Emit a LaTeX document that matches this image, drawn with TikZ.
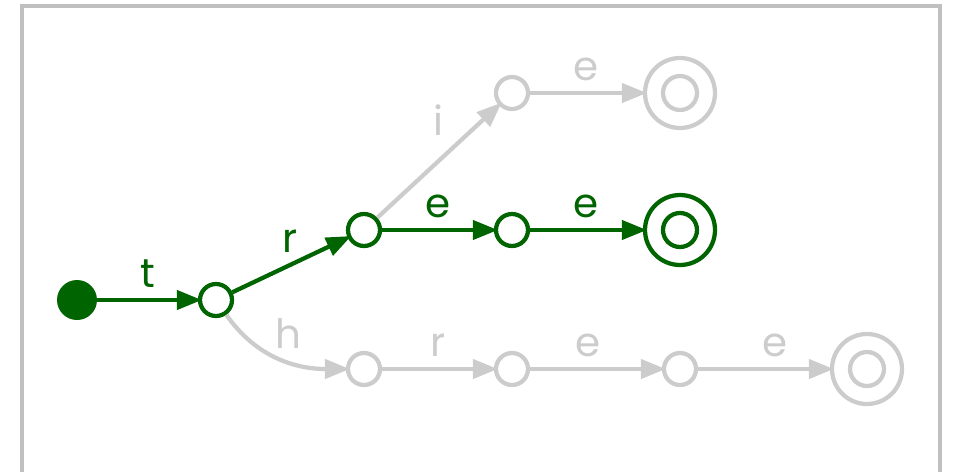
\documentclass[tikz,border=0pt]{standalone}
\usepackage{fontspec}
\setmainfont{Poppins}
\usetikzlibrary{arrows.meta}
\definecolor{trgreen}{HTML}{006400}
\definecolor{trgray}{HTML}{CCCCCC}
\definecolor{framegray}{HTML}{C0C0C0}

\begin{document}
\begin{tikzpicture}[x=0.02cm, y=-0.02cm,
        state/.style={circle, draw, line width=0.085cm, minimum size=0.64cm, inner sep=0pt},
        accept/.style={state, minimum size=1.4cm,
            path picture={\draw[line width=0.085cm] (path picture bounding box.center) circle (0.34cm);}},
        init/.style={circle, fill, minimum size=0.8cm, inner sep=0pt},
        trans/.style={line width=0.085cm, shorten >=-0.08cm, -{Triangle[length=0.5cm,width=0.38cm]}},
        lbl/.style={font=\fontsize{23}{28}\selectfont, anchor=base, yshift=0.26cm, inner sep=0pt},
        live/.style={trgreen},
        dim/.style={trgray}]
        \useasboundingbox (0,0) rectangle (956,471);
        \clip (0,0) rectangle (956,471);
        \draw[framegray, line width=0.08cm] (22,6) rectangle (940,490);

        \node[init, live] (s0) at (77,300) {};
        \node[state, live] (s1) at (216,300) {};
        \node[state, live] (s2) at (364,230) {};
        \node[state, live] (s3) at (512,230) {};
        \node[accept, live] (s4) at (680,230) {};
        \node[state, dim] (u1) at (512,93) {};
        \node[accept, dim] (u2) at (680,93) {};
        \node[state, dim] (b1) at (364,369) {};
        \node[state, dim] (b2) at (512,369) {};
        \node[state, dim] (b3) at (680,369) {};
        \node[accept, dim] (b4) at (867,369) {};

        \draw[trans, dim] (s2) -- node[lbl, yshift=0.26cm] {i} (u1);
        \draw[trans, dim] (u1) -- node[lbl] {e} (u2);
        \draw[trans, dim] (s1) to[out=-55, in=180] node[lbl, xshift=0.2cm, yshift=-0.08cm] {h} (b1);
        \draw[trans, dim] (b1) -- node[lbl] {r} (b2);
        \draw[trans, dim] (b2) -- node[lbl, xshift=-0.16cm] {e} (b3);
        \draw[trans, dim] (b3) -- node[lbl, xshift=0.22cm] {e} (b4);

        \draw[trans, live] (s0) -- node[lbl] {t} (s1);
        \draw[trans, live] (s1) -- node[lbl] {r} (s2);
        \draw[trans, live] (s2) -- node[lbl] {e} (s3);
        \draw[trans, live] (s3) -- node[lbl] {e} (s4);
    \end{tikzpicture}
\end{document}
